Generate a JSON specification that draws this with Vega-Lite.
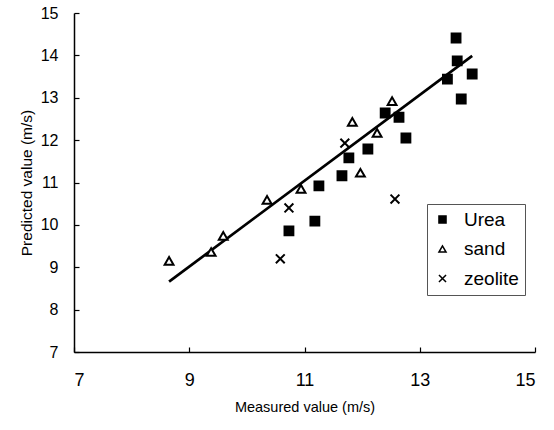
{
  "$schema": "https://vega.github.io/schema/vega-lite/v6.json",
  "width": 461,
  "height": 339,
  "autosize": "none",
  "padding": {"left": 74, "top": 13, "right": 19, "bottom": 78},
  "background": "white",
  "config": {
    "view": {"stroke": null},
    "font": "Liberation Sans",
    "axis": {
      "grid": false,
      "domainColor": "black",
      "domainWidth": 1.5,
      "tickColor": "black",
      "tickWidth": 1.2,
      "labelFont": "Liberation Sans",
      "labelColor": "black",
      "titleFont": "Liberation Sans",
      "titleFontWeight": "normal",
      "titleColor": "black"
    }
  },
  "datasets": {
    "pts": [
      {"m": 13.63, "p": 14.41, "series": "Urea"},
      {"m": 13.65, "p": 13.87, "series": "Urea"},
      {"m": 13.91, "p": 13.56, "series": "Urea"},
      {"m": 13.48, "p": 13.44, "series": "Urea"},
      {"m": 13.72, "p": 12.97, "series": "Urea"},
      {"m": 12.40, "p": 12.64, "series": "Urea"},
      {"m": 12.64, "p": 12.54, "series": "Urea"},
      {"m": 12.76, "p": 12.05, "series": "Urea"},
      {"m": 12.10, "p": 11.79, "series": "Urea"},
      {"m": 11.77, "p": 11.58, "series": "Urea"},
      {"m": 11.65, "p": 11.16, "series": "Urea"},
      {"m": 11.25, "p": 10.92, "series": "Urea"},
      {"m": 11.18, "p": 10.09, "series": "Urea"},
      {"m": 10.73, "p": 9.86, "series": "Urea"},
      {"m": 8.65, "p": 9.15, "series": "sand"},
      {"m": 9.38, "p": 9.36, "series": "sand"},
      {"m": 9.59, "p": 9.74, "series": "sand"},
      {"m": 10.35, "p": 10.59, "series": "sand"},
      {"m": 10.94, "p": 10.85, "series": "sand"},
      {"m": 11.83, "p": 12.43, "series": "sand"},
      {"m": 12.52, "p": 12.92, "series": "sand"},
      {"m": 12.26, "p": 12.17, "series": "sand"},
      {"m": 11.97, "p": 11.23, "series": "sand"},
      {"m": 11.70, "p": 11.93, "series": "zeolite"},
      {"m": 12.57, "p": 10.61, "series": "zeolite"},
      {"m": 10.73, "p": 10.40, "series": "zeolite"},
      {"m": 10.58, "p": 9.20, "series": "zeolite"}
    ],
    "fit": [
      {"m": 8.65, "p": 8.66},
      {"m": 13.91, "p": 13.99}
    ]
  },
  "layer": [
    {
      "data": {"name": "fit"},
      "mark": {"type": "line", "color": "black", "strokeWidth": 2.7},
      "encoding": {
        "x": {"field": "m", "type": "quantitative"},
        "y": {"field": "p", "type": "quantitative"}
      }
    },
    {
      "data": {"name": "pts"},
      "mark": {"type": "point", "stroke": "black", "strokeWidth": 2, "opacity": 1, "size": 78},
      "encoding": {
        "x": {
          "field": "m", "type": "quantitative",
          "scale": {"domain": [7, 15], "zero": false, "nice": false},
          "axis": {"orient": "bottom", "values": [7, 9, 11, 13, 15], "format": "d", "tickSize": -5, "labelFontSize": 18, "title": "Measured value (m/s)", "titleFontSize": 14.5, "labelPadding": 24, "titlePadding": 11}
        },
        "y": {
          "field": "p", "type": "quantitative",
          "scale": {"domain": [7, 15], "zero": false, "nice": false},
          "axis": {"orient": "left", "values": [7, 8, 9, 10, 11, 12, 13, 14, 15], "format": "d", "tickSize": -5, "labelFontSize": 16, "title": "Predicted value (m/s)", "titleFontSize": 15.5, "labelPadding": 21, "titlePadding": 6}
        },
        "shape": {
          "field": "series", "type": "nominal",
          "scale": {"domain": ["Urea", "sand", "zeolite"], "range": ["square", "triangle-up", "M-1,-1L1,1M-1,1L1,-1"]},
          "legend": {
            "title": null,
            "orient": "none",
            "legendX": 353,
            "legendY": 191,
            "padding": 6,
            "strokeColor": "#555",
            "fillColor": "white",
            "labelFont": "Liberation Sans",
            "labelFontSize": 19,
            "labelColor": "black",
            "symbolSize": 50,
            "rowPadding": 9.5,
            "labelOffset": 12,
            "encode": {"symbols": {"update": {"stroke": {"value": "black"}, "strokeWidth": {"value": 1.5}}}}
          }
        },
        "fill": {
          "field": "series", "type": "nominal",
          "scale": {"domain": ["Urea", "sand", "zeolite"], "range": ["black", "white", "transparent"]},
          "legend": {
            "title": null,
            "orient": "none",
            "legendX": 353,
            "legendY": 191,
            "padding": 6,
            "strokeColor": "#555",
            "fillColor": "white",
            "labelFont": "Liberation Sans",
            "labelFontSize": 19,
            "labelColor": "black",
            "symbolSize": 50,
            "rowPadding": 9.5,
            "labelOffset": 12,
            "encode": {"symbols": {"update": {"stroke": {"value": "black"}, "strokeWidth": {"value": 1.5}}}}
          }
        }
      }
    }
  ]
}
